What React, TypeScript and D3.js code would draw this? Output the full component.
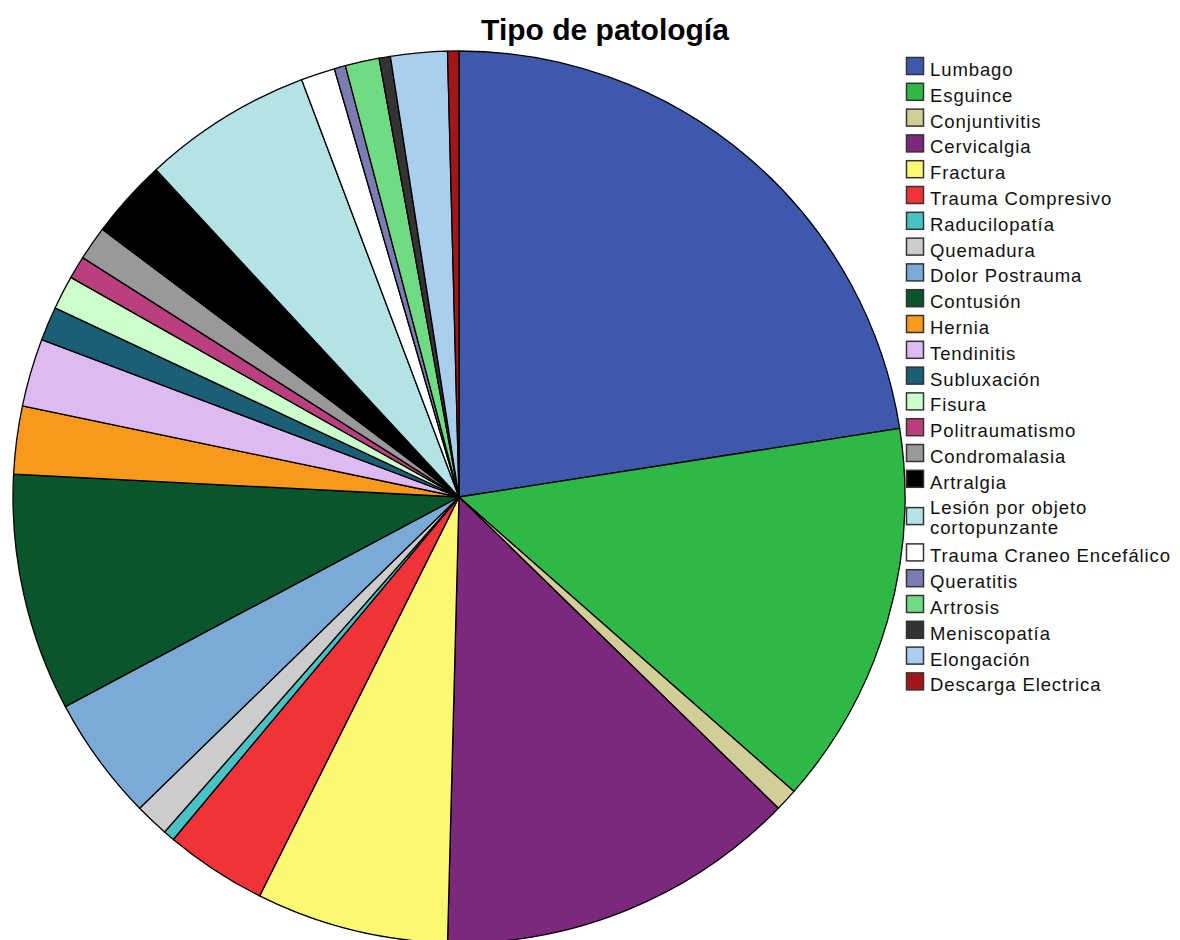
import React from 'react'
import * as d3 from 'd3'

// Tipo de patología: counts (clockwise from 12 o'clock)
const categories = [
  'Lumbago', 'Esguince', 'Conjuntivitis', 'Cervicalgia', 'Fractura',
  'Trauma Compresivo', 'Raducilopatía', 'Quemadura', 'Dolor Postrauma',
  'Contusión', 'Hernia', 'Tendinitis', 'Subluxación', 'Fisura',
  'Politraumatismo', 'Condromalasia', 'Artralgia',
  'Lesión por objeto cortopunzante', 'Trauma Craneo Encefálico',
  'Queratitis', 'Artrosis', 'Meniscopatía', 'Elongación', 'Descarga Electrica'
]
const counts = [55, 34, 2, 32, 17, 9, 1, 3, 11, 21, 6, 6, 3, 3, 2, 3, 7, 15, 3, 1, 3, 1, 5, 1]
const colors = [
  '#3e58ac', '#2eb848', '#d3ce97', '#7c287d', '#fbf873',
  '#ef3338', '#48c2c5', '#cccccc', '#7aaad5',
  '#0a562c', '#f8981d', '#ddbaf1', '#1a5f76', '#ccffcc',
  '#bb3f7f', '#999999', '#000000',
  '#b3e3e4', '#ffffff',
  '#7b7cb2', '#6fdc84', '#333333', '#aacfee', '#a21619'
]
// legend labels broken into lines as in the chart
const legendLines = categories.map(c => c === 'Lesión por objeto cortopunzante'
  ? ['Lesión por objeto', 'cortopunzante'] : [c])
const title = 'Tipo de patología'

const W = 1180
const H = 940

export default function App () {
  const cx = 459
  const cy = 497
  const r = 446
  const data = categories.map((c, i) => ({ name: c, value: counts[i], color: colors[i] }))
  const pie = d3.pie<any>().sort(null).value(d => d.value)
  const arc = d3.arc<any>().innerRadius(0).outerRadius(r)
  const arcs = pie(data)

  const rowH = 25.8
  const lineH = 20
  let y = 76
  const legend = legendLines.map((lines, i) => {
    const item = { lines, color: colors[i], y: lines.length > 1 ? y - 0.5 : y }
    y += rowH + (lines.length - 1) * 22
    return item
  })

  return <svg width={W} height={H} style={{ position: 'absolute', left: 0, top: 0, fontFamily: 'Liberation Sans, Arial, sans-serif' }}>
    <rect width={W} height={H} fill='#fff' />
    <text x={605} y={40} textAnchor='middle' fontSize={30} fontWeight='bold' fill='#000'>{title}</text>
    <g transform={`translate(${cx},${cy})`}>
      {arcs.map((a, i) =>
        <path key={i} d={arc(a) as string} fill={a.data.color} stroke='#000' strokeWidth={1.3} strokeLinejoin='round' />
      )}
    </g>
    <g>
      {legend.map((l, i) => {
        const sy = l.lines.length > 1 ? l.y + 2 : l.y - 10
        return <g key={i}>
          <rect x={906.5} y={sy - 8.5} width={17} height={17} fill={l.color} stroke='#333' strokeWidth={1.5} />
          {l.lines.map((t, j) =>
            <text key={j} x={930} y={l.y + j * lineH} fontSize={18.5} letterSpacing={0.9} fill='#111'>{t}</text>
          )}
        </g>
      })}
    </g>
  </svg>
}
